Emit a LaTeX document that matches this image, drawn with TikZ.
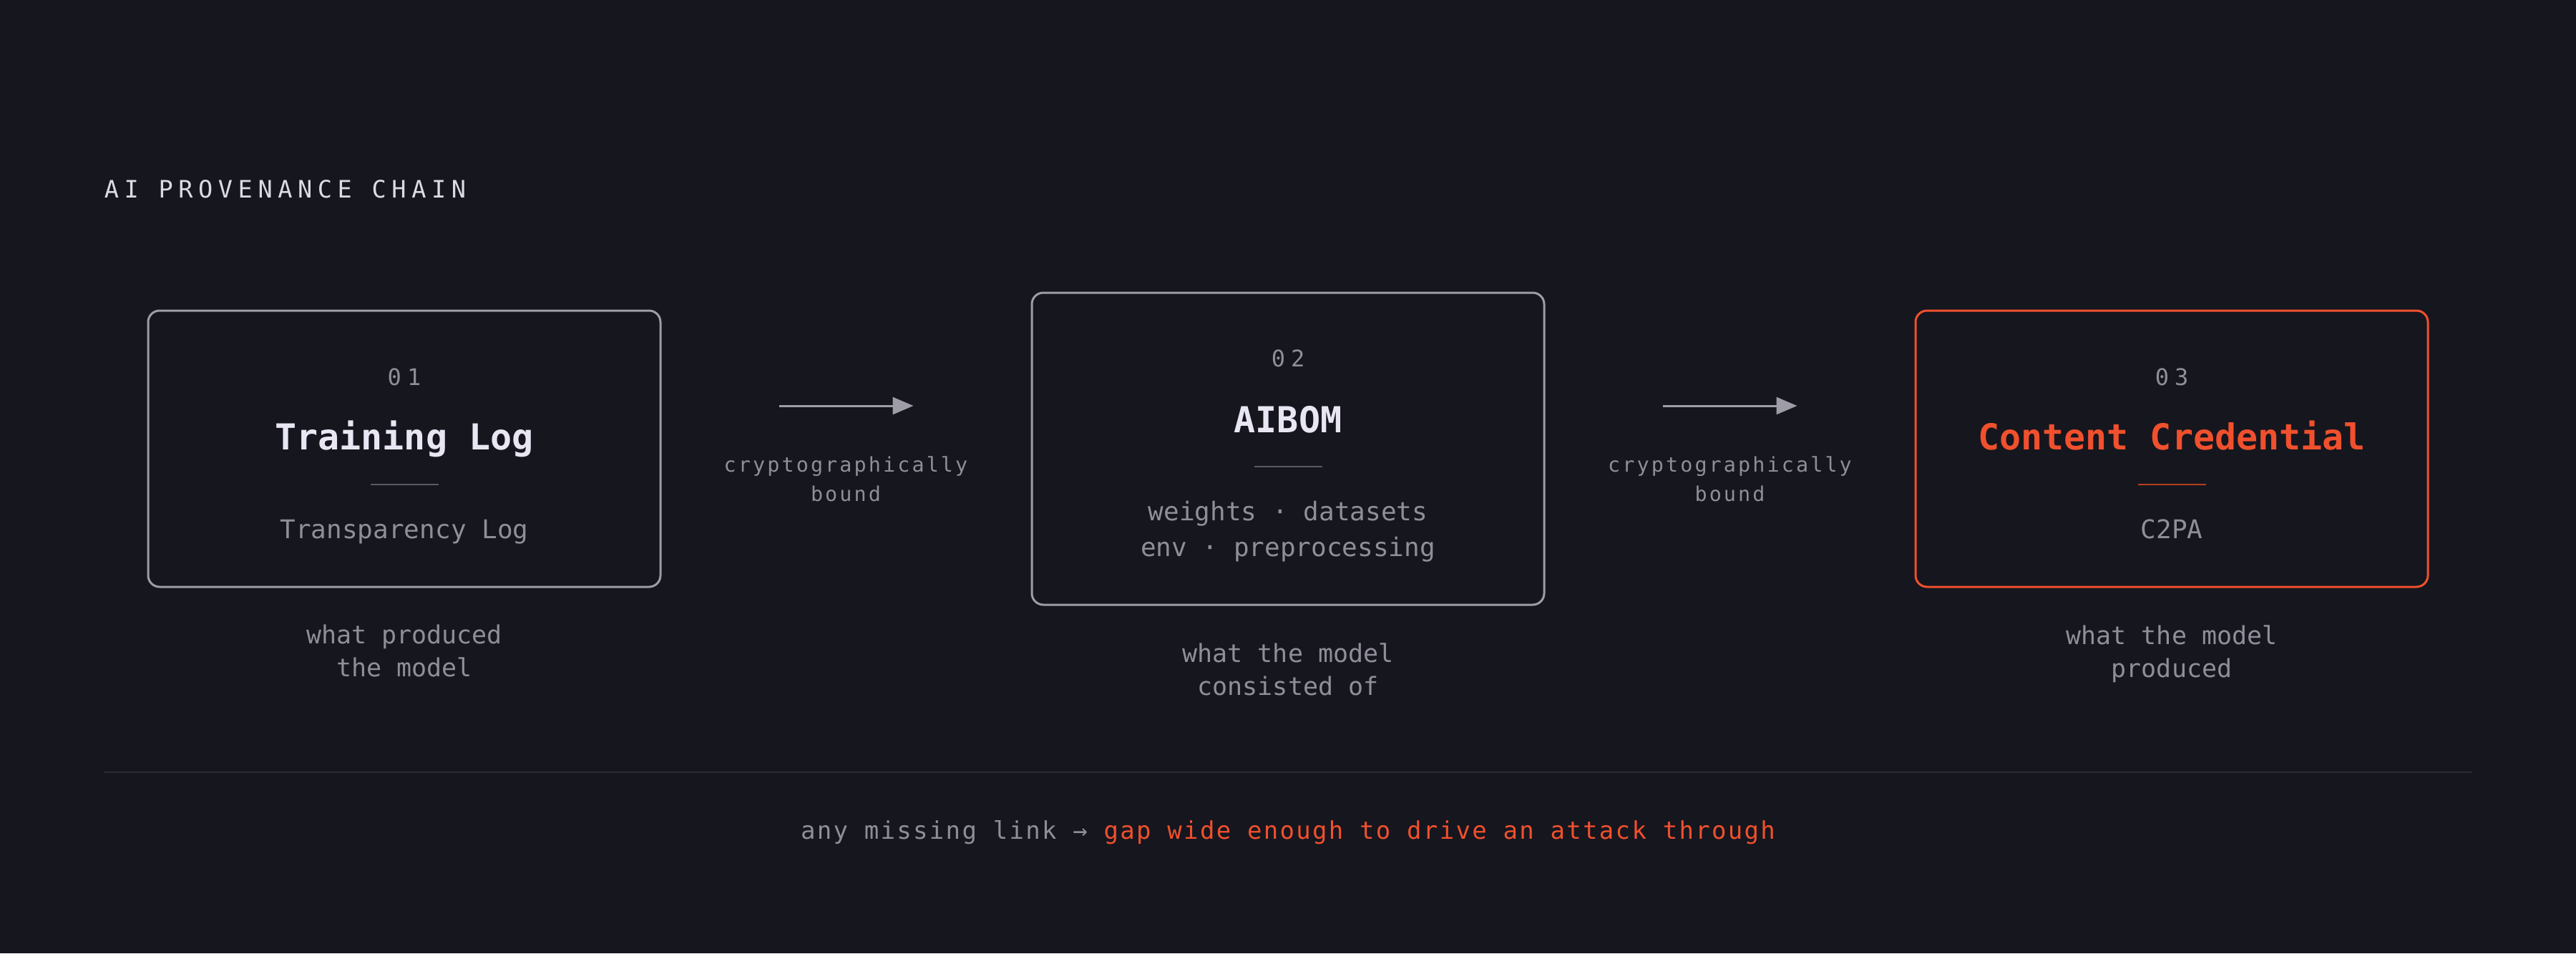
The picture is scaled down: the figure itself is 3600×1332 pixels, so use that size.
\documentclass[tikz,border=0pt]{standalone}
\usepackage{fontspec}
\setmonofont{DejaVu Sans Mono}
\usetikzlibrary{arrows.meta}

\definecolor{bgdark}{HTML}{16161E}
\definecolor{inkwhite}{HTML}{E8E6F3}
\definecolor{inkhead}{HTML}{DCDBE4}
\definecolor{inkgray}{HTML}{8F8E99}
\definecolor{boxgray}{HTML}{9E9DA7}
\definecolor{sepgray}{HTML}{5A5964}
\definecolor{accent}{HTML}{F0502D}
\definecolor{sepaccent}{HTML}{B5401F}
\definecolor{rulegray}{HTML}{2B2B36}

\newcommand{\headfont}{\fontsize{8.4pt}{10pt}\ttfamily\addfontfeatures{LetterSpace=22.5}}
\newcommand{\numfont}{\fontsize{8pt}{10pt}\ttfamily\addfontfeatures{LetterSpace=25}}
\newcommand{\titlefont}{\fontsize{12.5pt}{15pt}\ttfamily\bfseries}
\newcommand{\subfont}{\fontsize{9pt}{12.5pt}\ttfamily}
\newcommand{\notefont}{\fontsize{8.75pt}{11.5pt}\ttfamily}
\newcommand{\boundfont}{\fontsize{7.1pt}{10.25pt}\ttfamily\addfontfeatures{LetterSpace=11}}
\newcommand{\footfont}{\fontsize{8.5pt}{10pt}\ttfamily\addfontfeatures{LetterSpace=6.8}}

\begin{document}
\begin{tikzpicture}[x=0.25pt,y=-0.25pt,
    stagebox/.style={draw=boxgray,line width=0.75pt,rounded corners=4pt,
      minimum width=179pt,minimum height=96.5pt,inner sep=0pt},
    stagenum/.style={inner sep=0pt,anchor=base,text=inkgray,font=\numfont},
    stagetitle/.style={inner sep=0pt,anchor=base,text=inkwhite,font=\titlefont},
    stagesub/.style={inner sep=0pt,text=inkgray,font=\subfont,align=center},
    stagenote/.style={inner sep=0pt,anchor=north,text=inkgray,font=\notefont,align=center},
    linklabel/.style={inner sep=0pt,anchor=north,text=inkgray,font=\boundfont,align=center},
    linkarrow/.style={draw=boxgray,line width=0.75pt,-{Triangle[length=7.25pt,width=6pt]},
      shorten <=41pt,shorten >=41pt},
    sepline/.style={draw=sepgray,line width=0.5pt}]
  \fill[bgdark](0,0)rectangle(3600,1332);
  \useasboundingbox(0,0)rectangle(3600,1332);
  % heading
  \node[inner sep=0pt,anchor=base west,text=inkhead,font=\headfont](head)at(145,276.5){AI PROVENANCE CHAIN};
  % stages
  \node[stagebox](log)at(565,627){};
  \node[stagebox,minimum height=109pt](aibom)at(1800,627){};
  \node[stagebox,draw=accent](cred)at(3035,627){};
  % 01
  \node[stagenum](log-n)at(565,538){01};
  \node[stagetitle](log-t)at(565,628){Training Log};
  \draw[sepline](517.5,676.5)--(612.5,676.5);
  \node[stagesub,anchor=base](log-s)at(565,752){Transparency Log};
  \node[stagenote](log-c)at(565,872.5){what produced\\the model};
  % 02
  \node[stagenum](aibom-n)at(1800,512){02};
  \node[stagetitle](aibom-t)at(1800,604){AIBOM};
  \draw[sepline](1752.5,652)--(1847.5,652);
  \node[stagesub,anchor=north](aibom-s)at(1800,699.5){weights · datasets\\env · preprocessing};
  \node[stagenote](aibom-c)at(1800,897.5){what the model\\consisted of};
  % 03
  \node[stagenum](cred-n)at(3035,538){03};
  \node[stagetitle,text=accent](cred-t)at(3035,628){Content Credential};
  \draw[sepline,draw=sepaccent](2987.5,676.5)--(3082.5,676.5);
  \node[stagesub,anchor=base](cred-s)at(3035,752){C2PA};
  \node[stagenote](cred-c)at(3035,872.5){what the model\\produced};
  % links
  \draw[linkarrow]([yshift=15pt]log.east)--([yshift=15pt]aibom.west);
  \node[linklabel](link1)at(1182,636.5){cryptographically\\bound};
  \draw[linkarrow]([yshift=15pt]aibom.east)--([yshift=15pt]cred.west);
  \node[linklabel](link2)at(2417.5,636.5){cryptographically\\bound};
  % footer
  \draw[draw=rulegray,line width=0.7pt](145,1079)--(3455,1079);
  \node[inner sep=0pt,anchor=base,font=\footfont](foot)at(1800,1172)
    {\textcolor{inkgray}{any missing link →} \textcolor{accent}{gap wide enough to drive an attack through}};
\end{tikzpicture}
\end{document}
